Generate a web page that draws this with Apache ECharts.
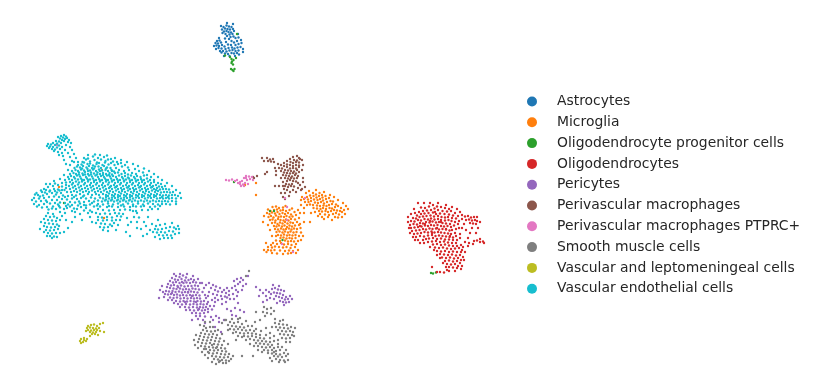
<!DOCTYPE html>
<html>
<head>
<meta charset="utf-8">
<script src="https://cdn.jsdelivr.net/npm/echarts@6/dist/echarts.min.js"></script>
<style>html,body{margin:0;padding:0;background:#fff}#chart{width:817px;height:389px}</style>
</head>
<body>
<div id="chart"></div>
<script>
var categories = ['Astrocytes', 'Microglia', 'Oligodendrocyte progenitor cells', 'Oligodendrocytes', 'Pericytes', 'Perivascular macrophages', 'Perivascular macrophages PTPRC+', 'Smooth muscle cells', 'Vascular and leptomeningeal cells', 'Vascular endothelial cells'];
var colors = ['#1f77b4', '#ff7f0e', '#2ca02c', '#d62728', '#9467bd', '#8c564b', '#e377c2', '#7f7f7f', '#bcbd22', '#17becf'];

var astrocytes = [[226.5,25.5],[229,26.5],[223.5,27],[231.5,27],[225,28.5],[227.5,29],[222,29.5],[230,29.5],[233,29],[224,31.5],[226.5,31],[228.5,32],[231,32.5],[234,31],[222.5,33],[225.5,34],[229.5,34.5],[232.5,34],[227,36],[230.5,37],[233.5,36.5],[225,38.5],[229,39],[235.5,38],[231.5,41],[238.5,37.5],[217,41],[219.5,40.5],[215.5,43],[218,43.5],[221,42.5],[226,42],[234,42.5],[237,41],[216.5,45.5],[219,46],[222,45],[224.5,46.5],[228,44.5],[231,45],[235.5,45],[238.5,44],[241.5,43],[218.5,48],[221.5,48.5],[225.5,49],[228.5,48],[232,47.5],[234.5,48.5],[237.5,47.5],[240.5,47],[223,51],[226.5,51.5],[229.5,50.5],[232.5,50],[235.5,51],[238.5,50.5],[225,53.5],[228,54],[231.5,53],[234,53.5],[237,53],[221.5,52.5],[229.5,56],[239,54.5],[219,38],[238,34],[241,40],[243,49],[243,52],[214,46],[216,49],[220,51],[224,56],[235,56],[227,23],[233,24],[221,26]];
var opc = [[230,57],[231.5,59],[232,61.5],[233.5,60],[231.5,63],[233,64.5],[231,69],[232.5,70],[233.5,71],[234.5,69],[236,58],[237,34],[225,55.5],[431,273],[433,273.5],[436,272.5],[274,211],[282.5,240],[64,203],[234,182],[270,211]];
var microglia = [[272.5,207],[276,206.5],[279,208],[283,207.5],[285.5,206],[268,209.5],[270.5,211],[274,210],[277,209.5],[280.5,210.5],[283,210],[286,211],[289.5,210],[292,208.5],[267,213],[269.5,214],[272,212.5],[275,213.5],[277.5,212],[279.5,214],[282.5,213],[285,214],[288,213],[291,214.5],[294.5,212],[298,210],[268.5,217],[271,216],[273.5,217.5],[276,215.5],[278.5,217],[281,216.5],[284,217],[286.5,216],[289.5,217],[292.5,216.5],[296,215],[270,220],[272.5,219.5],[275.5,220.5],[278,219],[280.5,220],[283.5,220.5],[286,219.5],[288.5,220.5],[291,219],[295,219.5],[299,218],[272,223],[275,222.5],[277.5,224],[280,222.5],[282.5,223.5],[285,222],[287.5,223.5],[290.5,222.5],[293,223],[297,222],[274,226],[276.5,226.5],[279,225.5],[282,226.5],[284.5,225.5],[287,227],[289.5,225.5],[292,226.5],[295,225.5],[299,225],[275,229],[278,229.5],[281,228.5],[283.5,229.5],[286,229],[289,228.5],[291.5,229.5],[294,228.5],[297,229],[300.5,228],[276.5,232],[279.5,231.5],[282.5,232.5],[285,231.5],[288,232.5],[290.5,231.5],[293.5,232.5],[296.5,232],[301,232.5],[278,235],[281,235.5],[284,234.5],[287,235.5],[289.5,235],[292.5,235.5],[295.5,235],[299,236],[280.5,238],[283.5,237.5],[286.5,238.5],[289.5,238],[292,238.5],[295.5,238],[280,241],[285,240.5],[288,241.5],[291,241],[294,241.5],[298,241],[276,240.5],[273,243],[277,244],[281,243],[284,244.5],[288,244],[291.5,245],[296,244],[271,245],[268,247],[272,247.5],[275,246.5],[279,247],[283,247.5],[286.5,247],[290.5,248],[295,247],[268,250],[271,250.5],[274.5,250],[280,250.5],[285,251],[289,250.5],[293,251],[266.5,252],[272,253],[277,253.5],[283,254],[288,253.5],[291,253],[313,193],[316,194.5],[319.5,193],[322,195],[310,195.5],[313.5,196],[316.5,197.5],[319,196],[322.5,197.5],[325.5,196],[307,197],[304,199],[308,199.5],[311,198],[314,199.5],[317.5,200],[320,199],[323,200.5],[326,199],[329,198],[305,202],[308.5,202],[311,201],[315,202.5],[318,203],[321,202],[324,203.5],[327,202],[330.5,201],[333,201.5],[310,204.5],[313,205],[317,205.5],[320,206],[323.5,205.5],[326.5,206],[329,205],[332,204],[336,204.5],[313.5,208],[317,208.5],[320.5,209],[323,208],[326,209],[329.5,208],[332,208.5],[335,207],[338,206],[341,208],[319,211],[322,211.5],[325.5,211],[328,212],[331,211],[334,210],[337,210.5],[340,211],[344,210],[320,214],[325,214.5],[329,215],[333,214],[336,213],[339,214.5],[342,212],[328,217],[335,217],[338,217.5],[318,216],[304,208],[301,205],[311,213],[300,213],[304,213],[310,222],[256,195],[256,183],[102,170],[59,187],[104,218],[245,185],[264,216],[263,222],[268,225],[270,230],[272,236],[276,236],[266,243],[264,250],[300,224],[304,222],[303,236],[301,240],[298,250],[296,253],[306,193],[302,197],[301,200],[309,191],[316,190],[324,192],[330,195],[334,197],[338,200],[343,203],[346,206],[348,209],[345,214],[342,217],[332,220],[324,219],[322,217],[315,212],[307,205]];
var oligodendrocytes = [[433,205],[437,206.5],[441,207],[429,206.5],[425,208],[421,207.5],[445,208],[449,209],[434.5,208.5],[431,210],[427,210.5],[423,211],[419,212],[415,213],[438,210],[442.5,211],[447,211.5],[451,211],[455,213],[417,215.5],[421,214],[424.5,213.5],[428.5,213],[433,212.5],[436,214],[440,213.5],[444.5,214],[449,214.5],[453,215.5],[413,218],[416,218.5],[419.5,217],[423,216.5],[426.5,216],[430.5,215.5],[434,216.5],[438,216],[441.5,217],[445,217.5],[448,217],[452,218],[456,218.5],[411,221],[414.5,221.5],[418,220],[421,220.5],[424.5,219],[428,219.5],[431,218.5],[434.5,219.5],[438,219],[441,220],[445,220.5],[448.5,220],[451.5,221],[455,222],[410,225],[413.5,224],[417,224.5],[420,223],[423,223.5],[426,222],[429.5,222.5],[432.5,221.5],[436,222.5],[439,222],[442.5,223],[446,223.5],[450,224],[454,225.5],[411,228],[414.5,227.5],[418,227],[421.5,226.5],[425,225.5],[428,226],[431,225],[434,225.5],[437.5,225],[441,226],[444,226.5],[447.5,226],[451,227],[412,231],[416,230.5],[419.5,230],[423,229],[426,229.5],[429.5,228.5],[432.5,229],[436,228.5],[439,229.5],[442.5,229],[446,229.5],[449.5,230.5],[452,230],[414,234],[417.5,233.5],[421,233],[424.5,232],[428,232.5],[431.5,231.5],[434.5,232.5],[438,232],[441,232.5],[444.5,233],[448,233.5],[451,234],[455,233],[416,237],[420,236],[424,236.5],[428,235.5],[432,235],[435.5,236],[439,235.5],[442.5,236],[446,236.5],[449.5,237],[453,237.5],[418,240],[423,240],[429,238.5],[433,238],[437,239],[441,238.5],[445,239.5],[449,239.5],[453,240],[432,241.5],[436,241],[440,242],[444,241.5],[448,242.5],[452,243],[456,243],[433,244.5],[437,244],[441,245],[445,244.5],[449,245.5],[453,246],[457,246],[435,247.5],[439,248],[443,247.5],[447,248.5],[451,249],[455,248.5],[459,248],[437,251],[441,251.5],[445,251],[449,252],[453,251.5],[457,252],[461,252],[440,254],[444,254.5],[448,255],[452,254.5],[456,255.5],[460,255],[463,257],[442,257.5],[446,258],[450,257.5],[454,258.5],[458,258],[461,260],[445,261],[449,260.5],[453,261.5],[457,261],[460,263],[447,264],[451,264.5],[455,264],[458,266],[449,267],[453,267.5],[457,268],[432,267],[440,272],[444,272.5],[447,270],[437,272],[462,215],[465,216.5],[468,216],[471,217.5],[474,217],[462,219],[466,220],[469,219.5],[472,220.5],[475,220],[477,221],[470,223],[473,223.5],[476,224],[458,224],[462,228],[466,230],[470,233],[476,233],[460,234],[468,238],[474,241],[477,240.5],[480,242],[483,241.5],[473,244],[469,243],[465,242],[463,247],[460,238],[408,222],[409,228],[410,233],[413,237],[415,240],[420,243],[424,243],[428,242],[430,247],[434,250],[437,255],[440,258],[443,263],[446,267],[461,245],[462,250],[465,252],[464,260],[462,266],[461,269],[455,271],[449,271],[418,203],[424,203],[430,203],[438,203],[446,205],[452,207],[457,209],[460,212],[458,216],[459,221],[459,228],[456,229],[456,236],[457,240],[477,217],[480,222],[478,228],[464,224],[472,228],[480,239],[484,243],[468,246],[414,209],[411,214],[408,217],[426,239],[430,221],[435,212],[441,222],[446,229],[450,236],[437,228],[432,233],[425,224],[420,226]];
var pericytes = [[176,276],[179.5,277],[183,275.5],[186,277.5],[172,278],[175,279.5],[178,280],[181.5,279],[185,280.5],[188.5,280],[191,279],[170,281],[173,282.5],[176,282],[179.5,283],[183.5,283],[186.5,282.5],[190,283],[193,282],[196,282.5],[168,284],[171,285.5],[174,285],[177.5,286],[181,285.5],[184.5,286.5],[188,286],[191.5,286],[195,285.5],[198,286],[167,287],[170,288],[173.5,288.5],[176.5,289],[180,288.5],[183,289.5],[186,289],[189,289.5],[192.5,288.5],[195.5,289],[199,289.5],[204,288],[166,291],[169,291.5],[172.5,291],[175.5,292],[179,291.5],[182,292.5],[185,292],[188,292.5],[191,291.5],[194,292],[197.5,292.5],[202.5,292],[165,294],[168,294.5],[171,294],[174,295],[177,294.5],[180,295.5],[183,295],[186.5,295.5],[190,295],[193,295.5],[196,295],[199.5,295.5],[205,295],[170,297.5],[173.5,298],[177,297.5],[180.5,298.5],[184,298],[187.5,298.5],[191,298],[194,298.5],[197,298],[200,298.5],[206,298],[172,300],[176,301],[180,301.5],[183.5,301],[187,301.5],[190.5,301],[194,301.5],[197.5,301],[201,301.5],[204,301],[178,304],[182,304.5],[186,304],[190,304.5],[193.5,304],[197,304.5],[200.5,304],[203.5,304.5],[207,304],[185,307],[189,307.5],[193,307],[197,307.5],[200,307],[203,307.5],[206,307],[210,306],[214,306],[190,310],[194,310.5],[198,310],[202,310.5],[205,310],[208,309],[212,309.5],[196,313],[200,313.5],[204,313],[208,312],[200,316],[205,316.5],[198,319],[203,320],[216,316],[219,318],[213,320],[219,322],[224,320],[227,309],[231,311],[235,308],[238,303],[240,310],[244,312],[209,283],[213,285],[216,286.5],[220,288],[224,290],[227,288],[211,288],[215,290],[218,291.5],[222,292],[226,293],[229,291],[232,288],[235,286],[238,284],[209,292],[213,294],[217,295],[221,296],[225,296.5],[229,295],[233,294],[236,290],[240,282],[234,281],[237,279],[241,278],[243,280],[227,297.5],[215,298],[222,299],[208,296],[237,296],[243,286],[260,290],[263,293],[266,296],[269,292],[272,289],[275,288],[278,289.5],[281,290],[271,294],[274,292.5],[277,293],[280,293.5],[283,295],[286,297],[276,296],[279,297],[282,298],[285,299.5],[288,299],[283,302],[286,302.5],[280,301],[284,305],[289,302],[270,298],[263,302],[159,298],[163,292],[215,327],[221,332],[232,315],[236,316],[162,286],[160,290],[164,297],[168,300],[174,303],[180,307],[186,310],[192,313],[196,316],[192,320],[205,323],[211,317],[208,302],[212,300],[215,302],[218,300],[222,304],[226,302],[230,299],[234,299],[238,292],[242,290],[246,284],[248,276],[174,274],[180,274],[187,274],[193,276],[198,279],[202,283],[206,285],[200,283],[194,280],[256,287],[259,296],[266,290],[267,300],[274,299],[290,296],[292,299],[277,303],[273,285],[279,286],[284,291],[188,292],[178,287],[182,282],[172,293],[192,296],[185,302],[199,309],[196,302]];
var macrophages = [[267,158],[270,159.5],[273,159],[268,161],[271,161.5],[274,162],[293,157],[297,156],[299,158],[290,159],[294,160],[297,160.5],[300,159],[287,161],[290.5,162],[293,163],[296,162],[299,162.5],[284,163],[287,164.5],[290,165],[293,166],[296,165],[299,165.5],[281,165],[284,166],[287,167],[290,168.5],[293,168],[296,168.5],[299,167],[279,168],[282,168.5],[285,170],[288,170.5],[291,171],[294,171.5],[297,170],[281,171],[284,172.5],[287,173],[290,173.5],[293,173],[296,173.5],[299,172],[283,175],[286,175.5],[289,176],[292,176.5],[295,175],[298,176],[285,178],[288,178.5],[291,178],[294,178.5],[297,178],[287,181],[290,180],[293,181],[296,181.5],[286,184],[289,184.5],[292,184],[298,183],[285,186],[288,187],[291,186],[294,186.5],[300,185],[284,189],[287,190],[301,190],[285,193],[290,192],[283,197],[289,196],[285,199],[302,189],[298,188],[276,171],[275,168],[267,172],[265,174],[257,176],[254,178],[253,177],[275,186],[303,178],[262,158],[264,161],[302,160],[303,165],[302,170],[278,164],[276,175],[281,178],[283,182],[283,186],[303,182],[296,192],[293,190],[281,193],[279,186],[305,187]];
var ptprc = [[226,180],[229,180.5],[232,179.5],[235,181],[238,183],[240,184],[242,181],[244,178],[246,176],[249,176.5],[252,177],[243,184.5],[245,183],[247,180],[250,179],[253,180],[241,186],[244,186],[248,184],[246,178],[240,182],[237,180],[285,198],[305,198],[287,207],[57,145],[287,220],[282,244],[293,252]];
var smoothMuscle = [[206,328],[210,327],[203,330],[207,331],[211,331.5],[215,331],[201,333],[205,334],[209,334.5],[213,334],[217,335],[200,336],[204,337],[208,337.5],[212,337],[216,338],[220,338.5],[199,339],[203,340],[207,340.5],[211,340],[215,341],[219,341.5],[198,342],[202,343],[206,343.5],[210,343],[214,344],[218,344.5],[222,345],[201,346],[205,346.5],[209,347],[213,347.5],[217,347],[221,348],[225,348.5],[206,349],[210,350],[214,350.5],[218,350],[222,351],[226,351.5],[209,353],[213,353.5],[217,353],[221,354],[225,354.5],[229,354],[212,356],[216,356.5],[220,357],[224,357.5],[228,357],[214,359],[218,359.5],[222,360],[226,360.5],[231,359],[219,362],[223,363],[230,322],[234,323],[238,322],[242,324],[228,325],[232,326],[236,326.5],[240,327],[244,327.5],[248,326],[230,329],[234,329.5],[238,329],[242,330],[246,330.5],[250,330],[254,331],[236,332],[240,333],[244,333.5],[248,333],[252,333.5],[256,334],[260,335],[244,336],[248,336.5],[252,336],[256,337],[260,338],[264,338.5],[250,339],[254,340],[258,340.5],[262,341],[266,341.5],[270,342],[256,343],[260,343.5],[264,344],[268,344.5],[272,345],[258,346],[262,347],[266,347.5],[270,347],[274,348],[278,347],[264,350],[268,350.5],[272,350],[276,351],[280,350],[268,353],[272,353.5],[276,354],[280,354.5],[284,353],[274,356],[278,356.5],[282,357],[286,356],[276,359],[280,360],[284,360.5],[279,362],[285,362],[275,323],[279,324],[283,324.5],[287,325],[276,327],[280,327.5],[284,328],[288,328.5],[291,327],[278,330],[282,331],[286,331.5],[290,331],[293,332],[280,334],[284,334.5],[288,335],[292,335],[282,338],[286,338.5],[290,338],[274,336],[278,340],[286,342],[264,307],[267,309],[271,308],[274,311],[263,312],[267,313],[271,314],[265,316],[260,320],[256,312],[222,323],[225,320],[210,322],[205,322],[200,325],[253,356],[242,356],[270,358],[236,340],[255,322],[266,328],[240,318],[249,271],[246,276],[196,335],[194,340],[195,345],[198,348],[202,352],[205,355],[208,358],[212,362],[216,364],[226,363],[229,361],[233,356],[228,344],[224,341],[222,334],[218,330],[213,327],[204,326],[226,320],[232,319],[238,319],[246,321],[252,326],[256,329],[261,331],[266,335],[270,338],[274,341],[278,344],[282,347],[286,350],[288,354],[288,360],[272,361],[274,352],[262,352],[258,350],[254,346],[250,344],[246,340],[242,337],[238,336],[233,333],[228,330],[295,328],[294,336],[290,342],[275,319],[283,320],[272,327],[270,333],[280,321],[204,349],[212,345],[208,352],[216,348],[220,361]];
var leptomeningeal = [[88,326],[91,325],[94,324.5],[97,326],[100,324],[87,328],[90,327.5],[93,328],[96,328.5],[99,328],[103,323],[88,330],[91,330.5],[94,330],[97,330],[86,331],[90,332],[93,332.5],[96,332],[100,331],[104,332],[92,334],[95,334],[98,335],[84,338],[81,339],[84,340],[87,339],[80,341],[83,342],[86,341],[81,343],[90,336]];
var endothelial = [[64,135],[61,136],[66,136.5],[58,137],[63,137.5],[67,138],[60,138.5],[65,139],[62,140],[69,140],[56,141],[59,141.5],[64,141],[68,142],[53,143],[57,143.5],[61,143],[71,143],[48,144],[51,144.5],[55,145],[59,145.5],[66,145],[47,146],[50,146.5],[53,147],[57,147.5],[62,147],[70,147],[49,148],[52,149],[55,149.5],[60,149],[65,150],[72,150],[54,151],[58,152],[62,153],[68,153],[74,154],[59,155],[63,156],[70,157],[76,158],[64,160],[72,161],[66,164],[78,162],
[88,158.5],[93,156.5],[98,158],[104,157],[111,159],[82.5,162],[86,159.5],[90,161.5],[94.5,160],[97,162.5],[101,159.5],[105.5,161],[108,159.5],[113,161.5],[117,162],[78,165],[81.5,164.5],[84,162.5],[87.5,164],[90,163.5],[93,165.5],[96.5,164],[99,163],[102.5,165],[105,162.5],[108.5,164.5],[111,163],[114.5,165],[118,164],[121,163],[125,165],[74.5,168],[77,166.5],[80,167.5],[83,166],[86.5,167.5],[89,166],[92,168],[95,166.5],[98.5,166.5],[101,168],[104,166],[107,167.5],[110.5,168],[116,168],[122,166.5],[128,167.5],[72,171],[75.5,170],[78,171],[81,169.5],[84,170.5],[87.5,169],[90,170.5],[93,169.5],[96,171],[99,169.5],[102,170.5],[105.5,170],[108,171],[111.5,170],[114,171.5],[119,170],[124,171],[129,170],[135,169],[139,171],[70,174],[73.5,173],[76,174],[79,172.5],[82.5,173.5],[85,172],[88,174],[91,172.5],[94,173.5],[97.5,172.5],[100,174],[103,173],[106,174],[109.5,173],[112,174.5],[115,173],[118,172.5],[121.5,174],[125,173],[128,174.5],[132,173],[136,174],[143,172.5],[68,177],[71,176],[74,177],[77,175.5],[80,176.5],[83,175],[86,177],[89,175.5],[92,176.5],[95.5,175.5],[98,177],[101,176],[104,177],[107,175.5],[110,176.5],[113,176],[116,177],[119,175.5],[122,177],[125,176],[128,177.5],[131,175.5],[134,177],[137,176],[140.5,177],[144,175.5],[147,175],[151,177],[65,180],[69,179],[72,180],[75,178.5],[78,179.5],[81,178.5],[84,180],[87,178.5],[90,179.5],[93,178.5],[96,180],[99,179],[102,180],[105,178.5],[108,180],[111,178.5],[114,180],[117,179],[120,180],[123,178.5],[126,179.5],[129,178.5],[132,180],[135,178.5],[138,180],[141,179],[144,180],[147,178.5],[150,180],[154,180],[53,186],[48,187],[44,189],[62,183],[66,182.5],[70,182],[73,183],[76,181.5],[79,182.5],[82,181.5],[85,183],[88,181.5],[91,183],[94,182],[97,183],[100,181.5],[103,183],[106,181.5],[109,182.5],[112,181.5],[115,183],[118,182],[121,183],[124,181.5],[127,183],[130,182],[133,183],[136,181.5],[139,183],[142,182],[145,183],[148,181.5],[151,183],[154,182],[158,183],[161,184],[50,184],[55,183.5],[58,185],[62,186.5],[66,185],[69,186],[72,184.5],[75,186],[78,184.5],[81,186],[84,184.5],[87,186],[90,185],[93,186],[96,184.5],[99,186],[102,185],[105,186],[108,184.5],[111,186],[114,185],[117,186],[120,184.5],[123,186],[126,185],[129,186],[132,184.5],[135,186],[138,185],[141,186],[144,184.5],[147,186],[150,185],[153,186],[156,185],[159,186.5],[162,187],[165,186],[42,192],[46,190],[50,190.5],[54,189],[58,189.5],[62,190],[66,188],[70,189],[73,187.5],[76,189],[79,187.5],[82,189],[85,188],[88,189],[91,187.5],[94,189],[97,188],[100,189],[103,187.5],[106,189],[109,188],[112,189],[115,187.5],[118,189],[121,188],[124,189],[127,187.5],[130,189],[133,188],[136,189],[139,187.5],[142,189],[145,188],[148,189],[151,187.5],[154,189],[157,188],[160,189.5],[163,189],[166,189],[169,189.5],[38,195],[43,195.5],[47,194],[52,193],[57,192.5],[61,193],[67,192],[71,192],[74,191],[77,192],[80,190.5],[83,192],[86,191],[89,192],[92,190.5],[95,192],[98,191],[101,192],[104,190.5],[107,192],[110,191],[113,192],[116,190.5],[119,192],[122,191],[125,192],[128,190.5],[131,192],[134,191],[137,192],[140,190.5],[143,192],[146,191],[149,192],[152,190.5],[155,192],[158,191],[161,192.5],[164,192],[167,192],[170,192.5],[173,192],[34,198],[39,198.5],[44,198],[49,197],[54,196.5],[59,197],[63,195.5],[68,196],[72,195],[76,195.5],[80,194],[84,195.5],[88,194],[92,195],[96,194],[99,195],[103,194],[106,195],[109,193.5],[112,195],[115,194],[118,195],[121,193.5],[124,195],[127,194],[130,195],[133,193.5],[136,195],[139,194],[142,195],[145,193.5],[148,195],[151,194],[154,195],[157,194],[160,195],[163,195.5],[166,195],[169,195.5],[172,195],[175,195],[178,196],[32,200],[36,201.5],[41,201],[46,200.5],[52,200],[57,200],[62,199],[67,199.5],[72,198.5],[77,199],[81,198],[86,198.5],[91,197.5],[95,198.5],[100,197.5],[103,198.5],[106,197],[109,198.5],[112,197.5],[115,198],[118,197],[121,198.5],[124,197.5],[127,198],[130,197],[133,198.5],[136,197.5],[139,198],[142,197],[145,198.5],[148,197.5],[151,198],[154,197],[157,198.5],[160,198],[163,198.5],[166,198],[169,198.5],[172,198],[176,198.5],[34,204],[39,205],[44,204],[50,203.5],[55,203],[60,202.5],[65,203],[70,202],[75,202.5],[79,201.5],[84,202],[89,201],[94,201.5],[98,200.5],[102,201.5],[105,200.5],[108,201.5],[111,200.5],[114,201.5],[117,200.5],[120,201.5],[123,200.5],[126,201.5],[129,200.5],[132,201.5],[135,200.5],[138,201.5],[141,200.5],[144,201.5],[147,200.5],[150,201.5],[153,200.5],[156,201.5],[159,201],[162,201.5],[165,201],[168,201.5],[172,201],[176,201.5],[47,207],[53,206.5],[59,206],[66,206],[72,205],[78,205.5],[84,205],[90,204.5],[98,204],[103,204.5],[108,203.5],[113,204.5],[118,203.5],[123,204.5],[128,203.5],[133,204.5],[138,203.5],[143,204.5],[148,203.5],[153,204],[158,204.5],[162,204],[56,209],[64,209],[74,208.5],[86,208],[100,206.5],[107,207],[112,206.5],[118,207],[124,206.5],[130,207],[136,206.5],[144,206],[150,207],[84,210.5],[125,209.5],[142,210],
[48,213],[53,214],[46,216],[50,217],[54,216.5],[57,218],[44,219],[48,220],[52,220.5],[56,221],[60,220],[45,223],[49,223.5],[53,224],[57,224.5],[44,226],[47,227],[51,227.5],[55,227],[59,226],[46,230],[50,230.5],[54,230],[58,229],[48,233],[52,233.5],[56,233],[50,236],[54,236.5],[52,238],[57,237],[66,220],[68,228],[72,211],[80,214],[82,220],
[98,209],[103,210],[109,210.5],[114,210],[96,213],[100,214],[105,213.5],[110,214],[115,213],[119,213.5],[98,217],[102,217.5],[107,217],[112,217.5],[117,216],[121,216.5],[98,220],[103,220.5],[107,220],[112,220.5],[116,220],[96,223],[101,223.5],[105,224],[110,224.5],[114,223],[100,227],[104,227.5],[108,227],[112,226],[103,230],[108,231],[133,211],[137,213],[134,217],[139,217.5],[131,222],[137,222],[144,222],[126,232],[148,217],
[156,226],[160,225],[155,229],[158,229.5],[162,229],[166,228],[170,227],[174,227.5],[176,229],[150,230],[153,232],[157,232.5],[161,232],[165,232.5],[169,231],[173,231.5],[159,235],[163,235.5],[167,235],[171,235.5],[175,234],[164,238],[168,238],[147,234],[143,236],[158,220],
[36.5,193],[41,190.5],[45,192.5],[49.5,191.5],[55,191],[59.5,190.5],[64.5,190],[37,206.5],[42,207.5],[48.5,209.5],[52,208.5],[60,207.5],[67,208],[70,206.5],[77,209],[81,207],[90,210.5],[94,206.5],[75,212],[88,213],[65,213],[60,212],[40,196.5],[35,194.5],[56,194.5],[65,197],[74,197],[83,196.5],[47,202],[58,204.5],[68,204.5],[80,203.5],[92,203],[86,205.5],[97,205.5],[109,206],[121,205.5],[133,206],[141,206.5],[155,206.5],[160,206],[166,204],[170,204.5],[176,204],[148,210],[152,209],[158,209],[130,210],[136,211],[120,210],[88,155],[95,154.5],[84,158],[100,155],[107,155.5],[115,158],[121,160],[127,162],[133,164],[138,166],[144,168.5],[149,171],[154,174],[158,177],[162,180],[167,183],[172,186],[176,190],[180,193],[181,198],[70,165],[74,162],[68,170],[64,175],[60,179],[54,181],[46,184],[92,212],[123,214],[127,218],[128,225],[90,217],[92,222],[120,220],[118,225],[116,230],[62,216],[64,232],[72,222],[75,217],[41,222],[40,229],[44,232],[47,236],[60,233],[152,224],[146,226],[141,229],[137,228],[179,233],[178,226],[179,229],[172,223],[165,224],[160,239],[172,238],[155,237],[130,236],[82,168.5],[88,171],[94,168.5],[100,171],[106,168.5],[112,171],[79,174.5],[85,174.5],[91,174.5],[97,174.5],[103,175],[109,175],[82,180],[88,180],[94,180.5],[100,180.5],[106,180],[112,180.5],[118,180.5],[124,180.5],[130,180.5],[136,180.5],[142,180.5],[110,187],[116,187],[122,190],[128,187.5],[134,190],[140,187],[146,190],[152,187],[156,190],[108,196],[114,196],[120,196],[126,196],[132,196],[138,196],[144,196],[150,196],[156,196],[162,197],[168,197],[106,199.5],[112,199.5],[118,199.5],[124,199.5],[130,199.5]];

var groups = [astrocytes, microglia, opc, oligodendrocytes, pericytes, macrophages, ptprc, smoothMuscle, leptomeningeal, endothelial];

var chart = echarts.init(document.getElementById('chart'));

var series = [];
for (var i = 0; i < categories.length; i++) {
    series.push({
        name: categories[i],
        type: 'scatter',
        data: groups[i],
        symbolSize: 2.4,
        itemStyle: { color: colors[i], opacity: 1 },
        silent: true
    });
}

chart.setOption({
    animation: false,
    color: colors,
    grid: { left: 0, right: 0, top: 0, bottom: 0 },
    xAxis: { type: 'value', min: 0, max: 817, show: false },
    yAxis: { type: 'value', min: 0, max: 389, inverse: true, show: false },
    legend: {
        orient: 'vertical',
        left: 522,
        top: 89.5,
        icon: 'circle',
        itemWidth: 10,
        itemHeight: 10,
        itemGap: 6.8,
        selectedMode: false,
        data: categories,
        textStyle: {
            fontFamily: 'DejaVu Sans',
            fontSize: 13.9,
            color: '#262626',
            padding: [0, 0, 0, 15],
            lineHeight: 13
        }
    },
    series: series
});
</script>
</body>
</html>
